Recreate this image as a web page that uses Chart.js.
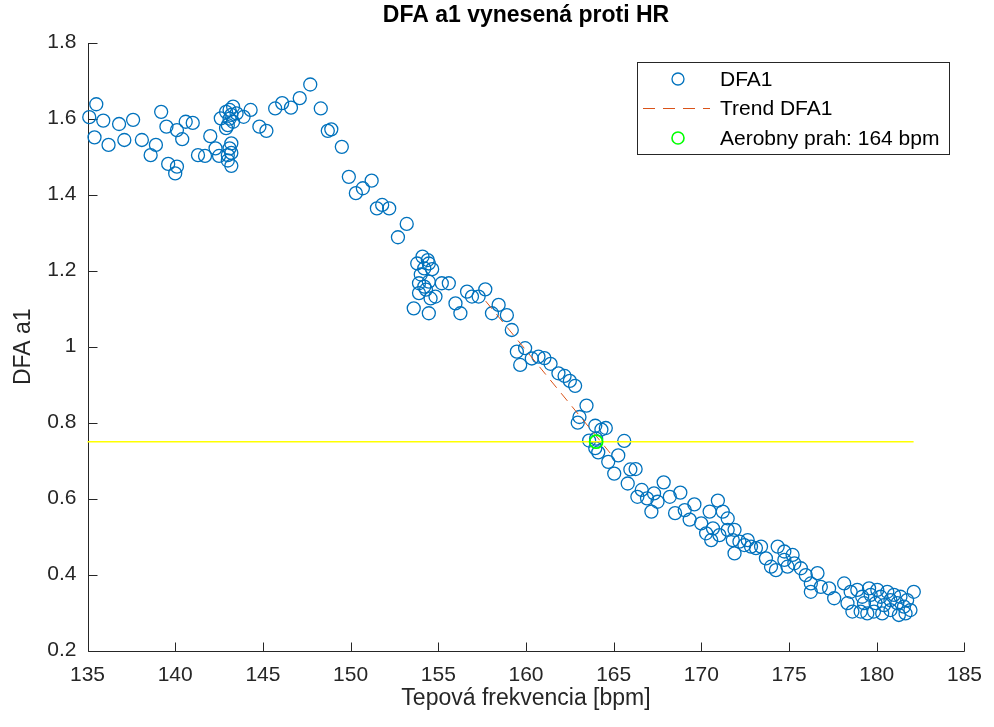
<!DOCTYPE html>
<html>
<head>
<meta charset="utf-8">
<script src="https://cdn.jsdelivr.net/npm/chart.js@4.4.1/dist/chart.umd.min.js"></script>
<style>
  html, body { margin: 0; padding: 0; background: #fff; }
  #wrap { width: 994px; height: 727px; }
</style>
</head>
<body>
<div id="wrap"><canvas id="chart" width="994" height="727"></canvas></div>
<script>
// ---- data ----
const hr = [
  135.1, 135.5, 135.4, 135.9, 136.2, 136.8, 137.1, 137.6, 138.1, 138.6,
  138.9, 139.2, 139.5, 139.6, 140.0, 140.1, 140.1, 140.4, 140.6, 141.0,
  141.3, 141.7, 142.0, 142.3, 142.5, 142.6, 142.9, 142.9, 143.0, 143.0,
  143.1, 143.1, 143.2, 143.2, 143.3, 143.3, 143.5, 143.9, 144.3, 144.8,
  145.2, 145.7, 146.1, 146.6, 147.1, 147.7, 148.3, 148.7, 148.9, 149.5,
  149.9, 150.3, 150.7, 151.2, 151.5, 151.8, 152.2, 152.7, 153.2,
  143.1, 143.2, 143.0, 143.2,
  153.8, 154.1, 154.4, 154.2, 154.65, 154.46, 153.9, 154.2, 154.46, 153.9,
  154.56, 154.84, 155.2, 155.6, 153.6, 154.46, 155.98, 156.64, 156.92, 157.3,
  157.68, 156.26, 158.44, 158.06, 158.91, 154.0, 154.3,
  159.19, 159.48, 159.95, 159.67, 160.33, 160.71, 161.05, 161.4, 161.85, 162.2,
  162.5, 162.8, 163.45, 163.05, 162.95, 163.95, 164.3, 164.55, 163.6, 164.0,
  163.95, 164.12, 165.6, 165.26, 164.69, 165.03, 165.8, 165.95, 166.25, 166.6,
  166.35, 166.9, 167.3, 167.85, 167.5, 167.15, 168.2, 168.8, 168.5, 169.05,
  169.33, 169.6, 169.99, 170.47, 170.94, 171.22, 171.5, 170.27, 170.66, 171.03,
  170.56, 171.5, 171.89, 171.79, 172.17, 172.45, 172.64, 172.83, 173.11, 173.4,
  171.89, 173.68, 173.97, 174.25, 174.35, 174.73, 174.73, 175.2, 175.3, 174.91,
  175.67, 175.95, 176.24, 176.62, 176.24, 176.81, 177.28, 177.57, 178.14, 178.51,
  178.33, 178.89, 178.61, 179.17, 179.27, 179.56, 179.65, 179.08, 179.46, 179.93,
  180.03, 180.22, 179.84, 180.41, 180.6, 180.78, 180.98, 180.31, 181.17, 181.35,
  181.55, 181.26, 181.73, 182.11, 181.92, 181.64, 180.78
];
const dfa = [
  1.604, 1.638, 1.551, 1.595, 1.531, 1.586, 1.544, 1.597, 1.544, 1.504,
  1.531, 1.618, 1.579, 1.481, 1.456, 1.474, 1.570, 1.546, 1.592, 1.589,
  1.504, 1.502, 1.554, 1.522, 1.502, 1.601, 1.618, 1.575, 1.583, 1.504,
  1.623, 1.522, 1.535, 1.476, 1.632, 1.592, 1.614, 1.605, 1.623, 1.579,
  1.568, 1.627, 1.641, 1.629, 1.654, 1.690, 1.627, 1.568, 1.572, 1.526,
  1.447, 1.404, 1.417, 1.437, 1.364, 1.373, 1.364, 1.288, 1.323,
  1.600, 1.610, 1.490, 1.510,
  1.219, 1.237, 1.228, 1.206, 1.204, 1.219, 1.167, 1.158, 1.171, 1.141,
  1.127, 1.132, 1.167, 1.167, 1.101, 1.088, 1.114, 1.145, 1.132, 1.132,
  1.151, 1.088, 1.110, 1.088, 1.083, 1.190, 1.150,
  1.044, 0.987, 0.996, 0.952, 0.969, 0.974, 0.970, 0.955, 0.930, 0.923,
  0.910, 0.897, 0.845, 0.815, 0.800, 0.792, 0.782, 0.786, 0.753, 0.758,
  0.733, 0.722, 0.752, 0.714, 0.697, 0.666, 0.640, 0.677, 0.678, 0.623,
  0.605, 0.601, 0.614, 0.643, 0.592, 0.566, 0.605, 0.616, 0.562, 0.570,
  0.545, 0.585, 0.535, 0.566, 0.595, 0.566, 0.548, 0.509, 0.522, 0.504,
  0.491, 0.518, 0.518, 0.491, 0.487, 0.478, 0.491, 0.474, 0.470, 0.474,
  0.456, 0.443, 0.421, 0.412, 0.474, 0.461, 0.439, 0.452, 0.430, 0.421,
  0.417, 0.399, 0.377, 0.404, 0.355, 0.368, 0.364, 0.338, 0.377, 0.355,
  0.325, 0.360, 0.303, 0.342, 0.325, 0.364, 0.347, 0.303, 0.298, 0.325,
  0.360, 0.342, 0.303, 0.320, 0.355, 0.333, 0.347, 0.298, 0.325, 0.342,
  0.316, 0.294, 0.333, 0.355, 0.307, 0.298, 0.307
];

const trendHr = [157.7, 164.8];
const trendDfa = [1.12, 0.72];

const threshHr = [164];
const threshDfa = [0.75];

const levelHr = [135, 182.1];
const levelDfa = [0.75, 0.75];

const xTicks = [135, 140, 145, 150, 155, 160, 165, 170, 175, 180, 185];
const yTicks = [0.2, 0.4, 0.6, 0.8, 1, 1.2, 1.4, 1.6, 1.8];

const legendLabels = ["DFA1", "Trend DFA1", "Aerobny prah: 164 bpm"];

// ---- look ----
const BLUE = "#0072BD", ORANGE = "#D95319", GREEN = "#00FF00", YELLOW = "#FFFF00";
const AX = "#262626";
const FONT = "'Liberation Sans', Arial, Helvetica, sans-serif";
const TICK_LEN = 9;

const pts = (xs, ys) => xs.map((x, i) => ({ x: x, y: ys[i] }));

// axis lines, inward ticks, title, axis labels, legend
const matlabLook = {
  id: "matlabLook",
  beforeDatasetsDraw(chart) {
    const { ctx, chartArea: a, scales: { x, y } } = chart;
    ctx.save();
    ctx.strokeStyle = AX;
    ctx.lineWidth = 1;
    ctx.beginPath();
    const L = Math.round(a.left) + 0.5, B = Math.round(a.bottom) + 0.5;
    ctx.moveTo(L, Math.round(a.top));
    ctx.lineTo(L, B);
    ctx.lineTo(Math.round(a.right) + 0.5, B);
    xTicks.forEach((v) => {
      const px = Math.round(x.getPixelForValue(v)) + 0.5;
      ctx.moveTo(px, B); ctx.lineTo(px, B - TICK_LEN);
    });
    yTicks.forEach((v) => {
      const py = Math.round(y.getPixelForValue(v)) + 0.5;
      ctx.moveTo(L, py); ctx.lineTo(L + TICK_LEN, py);
    });
    ctx.stroke();
    ctx.restore();
  },
  afterDraw(chart) {
    const { ctx, chartArea: a } = chart;
    const cx = (a.left + a.right) / 2;
    ctx.save();
    // title
    ctx.fillStyle = "#000";
    ctx.font = "bold 23px " + FONT;
    ctx.textAlign = "center";
    ctx.textBaseline = "alphabetic";
    ctx.fillText("DFA a1 vynesená proti HR", cx, 22);
    // x label
    ctx.fillStyle = AX;
    ctx.font = "23px " + FONT;
    ctx.fillText("Tepová frekvencia [bpm]", cx, 705);
    // y label
    ctx.save();
    ctx.translate(30, (a.top + a.bottom) / 2);
    ctx.rotate(-Math.PI / 2);
    ctx.fillText("DFA a1", 0, 0);
    ctx.restore();

    // legend
    const bx = 637.5, by = 62.5, bw = 312, bh = 92;
    ctx.fillStyle = "#fff";
    ctx.fillRect(bx, by, bw, bh);
    ctx.strokeStyle = AX;
    ctx.lineWidth = 1;
    ctx.strokeRect(bx, by, bw, bh);
    const rows = [79, 108.5, 138];
    const mx = 678;
    ctx.lineWidth = 1.3;
    ctx.strokeStyle = BLUE;
    ctx.beginPath(); ctx.arc(mx, rows[0], 6, 0, Math.PI * 2); ctx.stroke();
    ctx.strokeStyle = ORANGE;
    ctx.lineWidth = 1;
    ctx.setLineDash([12, 8]);
    ctx.beginPath(); ctx.moveTo(643, rows[1]); ctx.lineTo(710, rows[1]); ctx.stroke();
    ctx.setLineDash([]);
    ctx.strokeStyle = GREEN;
    ctx.lineWidth = 1.6;
    ctx.beginPath(); ctx.arc(mx, rows[2], 6, 0, Math.PI * 2); ctx.stroke();
    ctx.fillStyle = "#000";
    ctx.font = "21px " + FONT;
    ctx.textAlign = "left";
    ctx.textBaseline = "middle";
    legendLabels.forEach((t, i) => ctx.fillText(t, 720, rows[i] + 1));
    ctx.restore();
  },
};

new Chart(document.getElementById("chart"), {
  type: "scatter",
  data: {
    datasets: [
      { label: legendLabels[2], data: pts(threshHr, threshDfa), borderColor: GREEN, backgroundColor: "transparent",
        pointRadius: 6.5, pointBorderWidth: 1.8, clip: false },
      { label: "level", data: pts(levelHr, levelDfa), showLine: true, borderColor: YELLOW, borderWidth: 1.6,
        pointRadius: 0, clip: false },
      { label: legendLabels[1], data: pts(trendHr, trendDfa), showLine: true, borderColor: ORANGE, borderWidth: 1,
        borderDash: [10, 7], pointRadius: 0, clip: false },
      { label: legendLabels[0], data: pts(hr, dfa), borderColor: BLUE, backgroundColor: "transparent",
        pointRadius: 6.5, pointBorderWidth: 1.3, clip: false },
    ],
  },
  options: {
    responsive: false,
    animation: false,
    events: [],
    layout: { padding: { left: 0, right: 27, top: 42.7, bottom: 0 } },
    plugins: { legend: { display: false }, title: { display: false }, tooltip: { enabled: false } },
    scales: {
      x: {
        type: "linear", min: 135, max: 185,
        afterBuildTicks: (s) => { s.ticks = xTicks.map((v) => ({ value: v })); },
        afterFit: (s) => { s.height = 727 - 650.7; },
        grid: { display: false, drawTicks: false },
        border: { display: false },
        ticks: { color: AX, padding: 12, font: { family: FONT, size: 21 }, maxRotation: 0 },
      },
      y: {
        type: "linear", min: 0.2, max: 1.8,
        afterBuildTicks: (s) => { s.ticks = yTicks.map((v) => ({ value: v })); },
        afterFit: (s) => { s.width = 87.5; },
        grid: { display: false, drawTicks: false },
        border: { display: false },
        ticks: { color: AX, padding: 11, font: { family: FONT, size: 21 }, callback: (v) => String(+v.toFixed(1)) },
      },
    },
  },
  plugins: [matlabLook],
});
</script>
</body>
</html>
